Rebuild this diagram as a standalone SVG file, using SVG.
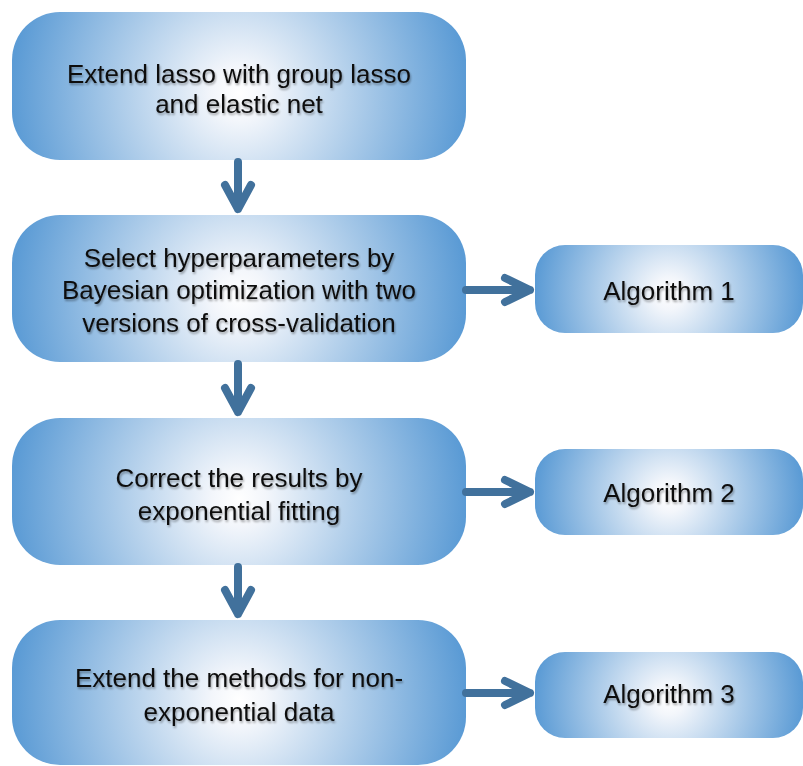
<svg xmlns="http://www.w3.org/2000/svg" width="803" height="766" viewBox="0 0 803 766">
<defs>
<radialGradient id="g" cx="0.5" cy="0.55" r="0.5" gradientTransform="translate(0.5 0.55) scale(1 3.07) translate(-0.5 -0.55)">
<stop offset="0" stop-color="#ffffff"/>
<stop offset="0.12" stop-color="#f3f6fb"/>
<stop offset="1" stop-color="#5b9bd5"/>
</radialGradient>
<filter id="ts" x="-5%" y="-20%" width="110%" height="140%">
<feGaussianBlur in="SourceAlpha" stdDeviation="1"/>
<feOffset dx="1" dy="1.5" result="b"/>
<feComponentTransfer><feFuncA type="linear" slope="0.35"/></feComponentTransfer>
<feMerge><feMergeNode/><feMergeNode in="SourceGraphic"/></feMerge>
</filter>
</defs>
<style>
.box{fill:url(#g);}
.t{font-family:"Liberation Sans",Arial,sans-serif;font-size:26px;fill:#111;text-anchor:middle;filter:url(#ts);}
.c{stroke:#41719c;stroke-width:8;fill:none;stroke-linecap:round;stroke-linejoin:round;}
</style>
<g id="n1"><rect class="box" x="12" y="12" width="454" height="148" rx="48"/>
<text class="t" x="239" y="83">Extend lasso with group lasso</text>
<text class="t" x="239" y="113">and elastic net</text></g>
<g id="n2"><rect class="box" x="12" y="215" width="454" height="147" rx="48"/>
<text class="t" x="239" y="267">Select hyperparameters by</text>
<text class="t" x="239" y="299">Bayesian optimization with two</text>
<text class="t" x="239" y="332">versions of cross-validation</text></g>
<g id="n3"><rect class="box" x="12" y="418" width="454" height="147" rx="48"/>
<text class="t" x="239" y="487">Correct the results by</text>
<text class="t" x="239" y="520">exponential fitting</text></g>
<g id="n4"><rect class="box" x="12" y="620" width="454" height="145" rx="48"/>
<text class="t" x="239" y="687">Extend the methods for non-</text>
<text class="t" x="239" y="721">exponential data</text></g>
<g id="a1"><rect class="box" x="535" y="245" width="268" height="88" rx="30"/>
<text class="t" x="669" y="300">Algorithm 1</text></g>
<g id="a2"><rect class="box" x="535" y="449" width="268" height="86" rx="30"/>
<text class="t" x="669" y="502">Algorithm 2</text></g>
<g id="a3"><rect class="box" x="535" y="652" width="268" height="86" rx="30"/>
<text class="t" x="669" y="703">Algorithm 3</text></g>
<g id="connectors">
<path class="c" d="M238 162 V209 M225 185 L238 209 L251 185"/>
<path class="c" d="M238 364 V412 M225 388 L238 412 L251 388"/>
<path class="c" d="M238 567 V614 M225 590 L238 614 L251 590"/>
<path class="c" d="M466 290 H530 M505 278 L530 290 L505 302"/>
<path class="c" d="M466 492 H530 M505 480 L530 492 L505 504"/>
<path class="c" d="M466 693 H530 M505 681 L530 693 L505 705"/>
</g>
</svg>
